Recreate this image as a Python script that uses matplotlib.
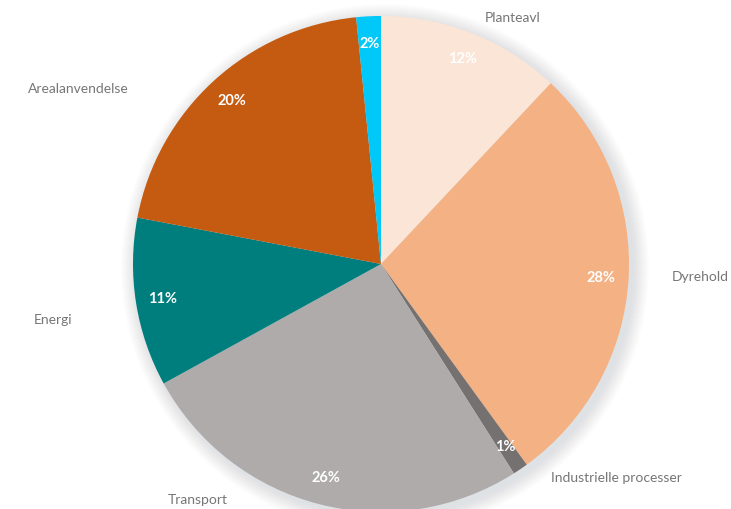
import matplotlib
matplotlib.use("Agg")
import matplotlib.pyplot as plt
from matplotlib.patches import Circle

categories = ["Planteavl", "Dyrehold", "Industrielle processer", "Transport",
              "Energi", "Arealanvendelse", ""]
values = [12, 28, 1, 26, 11, 20.4, 1.6]
colors = ["#FBE5D6", "#F4B183", "#767171", "#AFABAB", "#007D7D", "#C55A11", "#00C8F8"]
# label positions in pixel coords (x, y from top)
label_pos = [(513, 18), (700, 277), (616, 478), (198, 500), (53, 320), (78, 89), None]

W, H = 731, 509
fig = plt.figure(figsize=(W / 100, H / 100), dpi=100)
ax = fig.add_axes([0, 0, 1, 1])

cx, cy, r = 381, H - 264, 248

# soft shadow
for i in range(16):
    ax.add_patch(Circle((cx + 4, cy - 4), r + 16 - i, color="#a0a6ad",
                        alpha=0.016, lw=0, zorder=0))

wedges, texts, autotexts = ax.pie(
    values, colors=colors, startangle=90, counterclock=False,
    center=(cx, cy), radius=r, autopct="%.0f%%", pctdistance=0.89,
    wedgeprops=dict(linewidth=0), frame=True,
    textprops=dict(color="white", fontsize=10.5, fontweight="bold", family="Lato"))
ax.set_xlim(0, W)
ax.set_ylim(0, H)
ax.set_aspect("equal")
ax.axis("off")

for name, pos in zip(categories, label_pos):
    if pos is None:
        continue
    ax.text(pos[0], H - pos[1], name, ha="center", va="center",
            fontsize=10, color="#767676", family="Lato")

fig.savefig("out.png", dpi=100)
